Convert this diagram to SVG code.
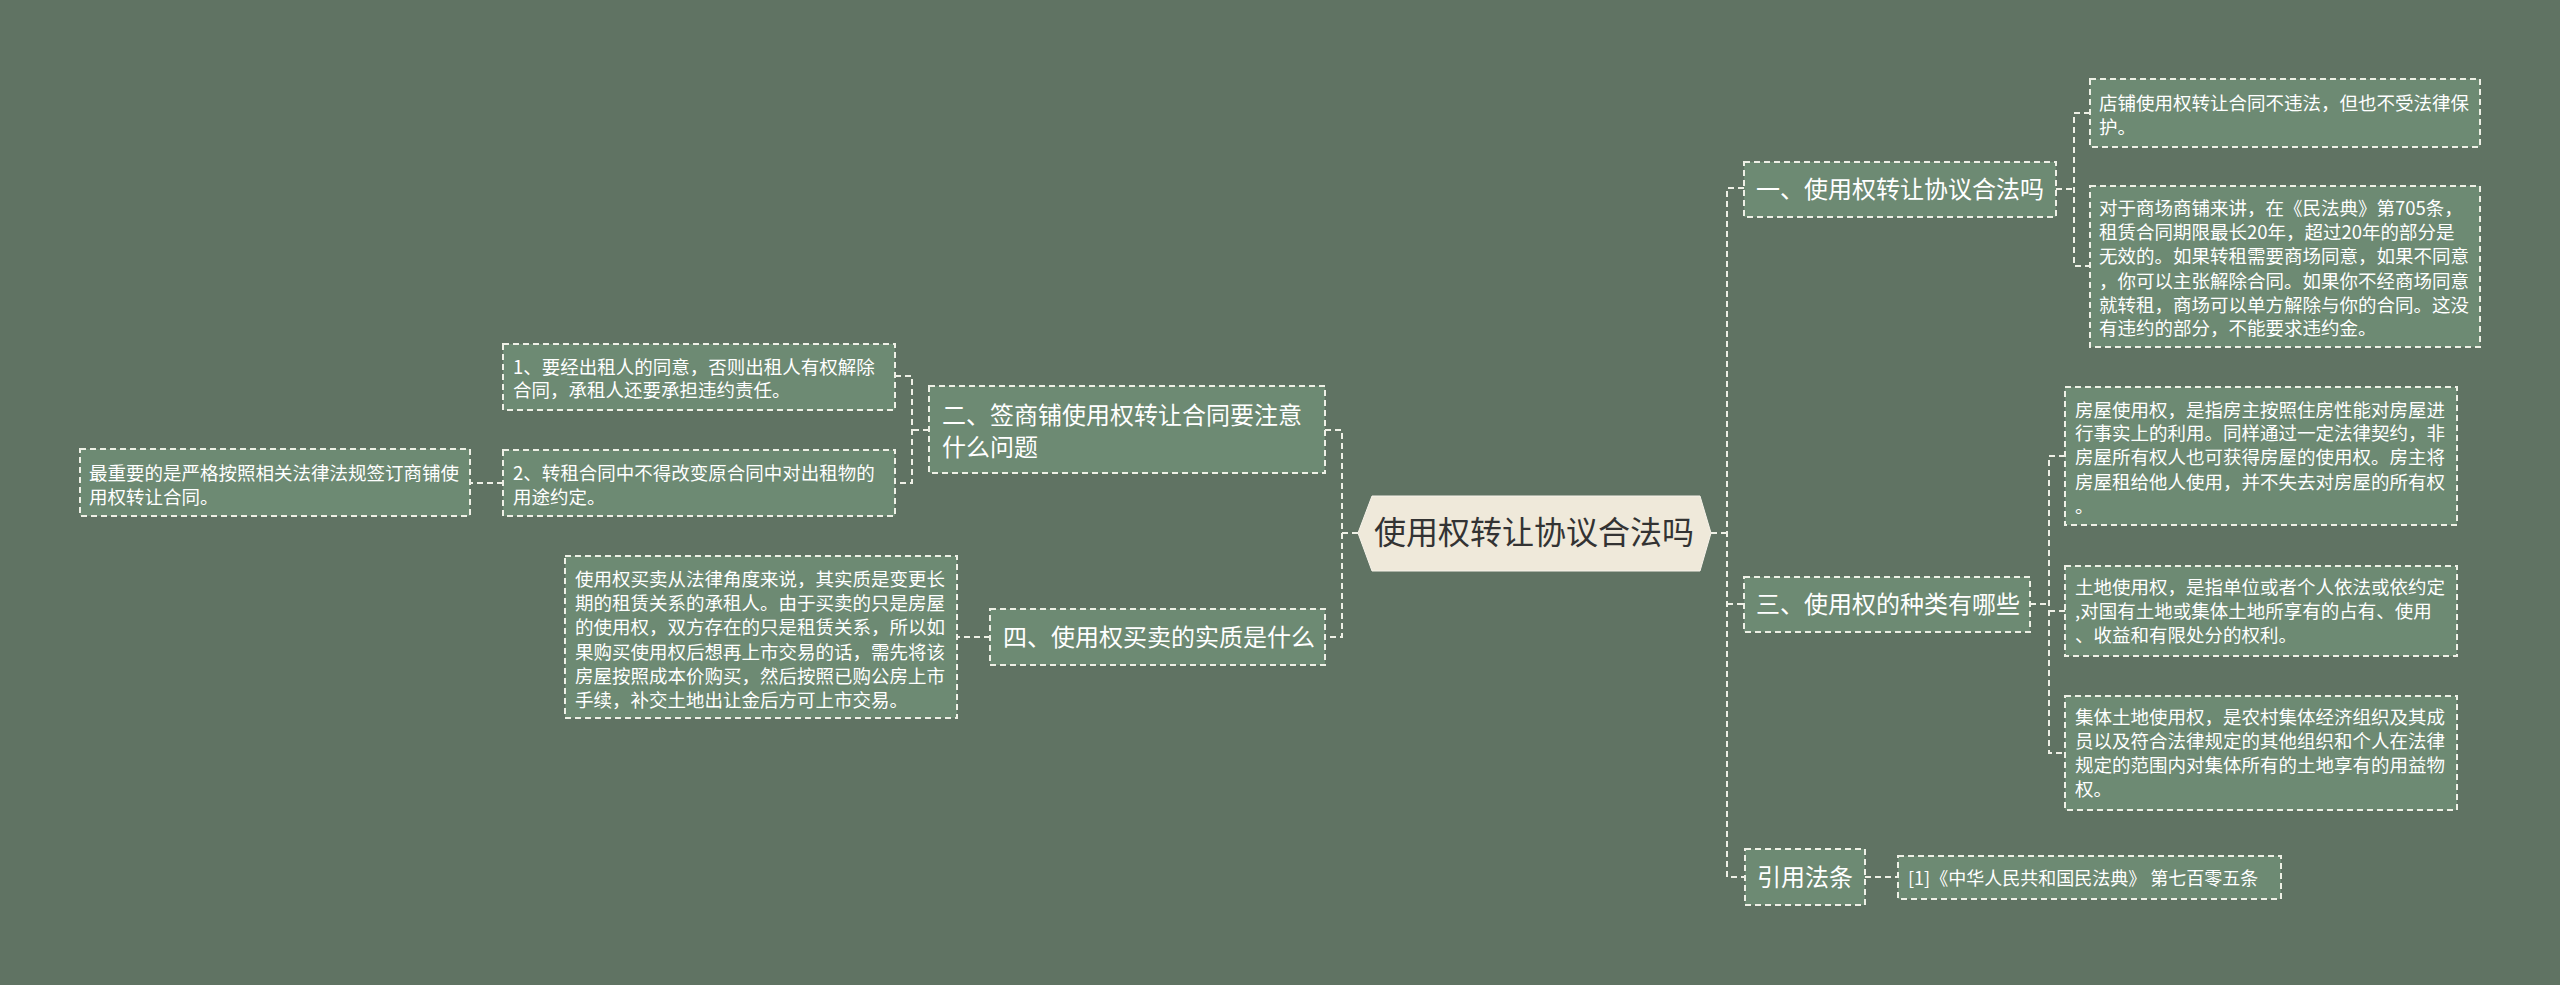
<svg xmlns="http://www.w3.org/2000/svg" width="2560" height="985" viewBox="0 0 2560 985">
<style>
.box{fill:#6d8a73;stroke:#eef0e6;stroke-width:2;stroke-dasharray:6 4}
.ln{fill:none;stroke:#eef0e6;stroke-width:2;stroke-dasharray:6 4}
.t{font-family:"Noto Sans CJK SC","Noto Sans",sans-serif;fill:#ffffff}
.m{font-size:24px}
.s{font-size:18.5px}
.root{font-family:"Noto Sans CJK SC","Noto Sans",sans-serif;font-size:32px;fill:#333333}
</style>
<rect x="0" y="0" width="2560" height="985" fill="#607363"/>
<g id="connectors">
<path class="ln" d="M1711 533 H1727"/>
<path class="ln" d="M1744 188 H1727 V877 H1744"/>
<path class="ln" d="M1727 604 H1744"/>
<path class="ln" d="M2056 189 H2074"/>
<path class="ln" d="M2090 113 H2074 V266 H2090"/>
<path class="ln" d="M2030 604 H2049"/>
<path class="ln" d="M2065 456 H2049 V753 H2065"/>
<path class="ln" d="M2049 611 H2065"/>
<path class="ln" d="M1865 877 H1898"/>
<path class="ln" d="M1358 533 H1342"/>
<path class="ln" d="M1325 430 H1342 V637 H1325"/>
<path class="ln" d="M929 430 H912"/>
<path class="ln" d="M895 376 H912 V483 H895"/>
<path class="ln" d="M503 483 H470"/>
<path class="ln" d="M990 637 H957"/>
</g>
<g id="root">
<polygon points="1358,533 1372,496 1700,496 1711,533 1700,571 1372,571" fill="#efe9da" stroke="#f7f3ea" stroke-width="1"/>
<text class="root" x="1534" y="544" text-anchor="middle">使用权转让协议合法吗</text>
</g>
<g id="n1">
<rect class="box" x="1744" y="162" width="312" height="55"/>
<text class="t m" x="1756" y="198">一、使用权转让协议合法吗</text>
</g>
<g id="n1a">
<rect class="box" x="2090" y="79" width="390" height="68"/>
<text class="t s"><tspan x="2099" y="109.5">店铺使用权转让合同不违法，但也不受法律保</tspan><tspan x="2099" y="133.5">护。</tspan></text>
</g>
<g id="n1b">
<rect class="box" x="2090" y="186" width="390" height="161"/>
<text class="t s"><tspan x="2099" y="214.5">对于商场商铺来讲，在《民法典》第705条，</tspan><tspan x="2099" y="239">租赁合同期限最长20年，超过20年的部分是</tspan><tspan x="2099" y="263">无效的。如果转租需要商场同意，如果不同意</tspan><tspan x="2099" y="287.5">，你可以主张解除合同。如果你不经商场同意</tspan><tspan x="2099" y="311.5">就转租，商场可以单方解除与你的合同。这没</tspan><tspan x="2099" y="335">有违约的部分，不能要求违约金。</tspan></text>
</g>
<g id="n3">
<rect class="box" x="1744" y="577" width="286" height="55"/>
<text class="t m" x="1756" y="613">三、使用权的种类有哪些</text>
</g>
<g id="n3a">
<rect class="box" x="2065" y="387" width="392" height="138"/>
<text class="t s"><tspan x="2075" y="416.5">房屋使用权，是指房主按照住房性能对房屋进</tspan><tspan x="2075" y="440">行事实上的利用。同样通过一定法律契约，非</tspan><tspan x="2075" y="464">房屋所有权人也可获得房屋的使用权。房主将</tspan><tspan x="2075" y="488.5">房屋租给他人使用，并不失去对房屋的所有权</tspan><tspan x="2075" y="513">。</tspan></text>
</g>
<g id="n3b">
<rect class="box" x="2065" y="566" width="392" height="90"/>
<text class="t s"><tspan x="2075" y="593.5">土地使用权，是指单位或者个人依法或依约定</tspan><tspan x="2075" y="617.5">,对国有土地或集体土地所享有的占有、使用</tspan><tspan x="2075" y="641.5">、收益和有限处分的权利。</tspan></text>
</g>
<g id="n3c">
<rect class="box" x="2065" y="696" width="392" height="114"/>
<text class="t s"><tspan x="2075" y="723.5">集体土地使用权，是农村集体经济组织及其成</tspan><tspan x="2075" y="747.5">员以及符合法律规定的其他组织和个人在法律</tspan><tspan x="2075" y="772">规定的范围内对集体所有的土地享有的用益物</tspan><tspan x="2075" y="796">权。</tspan></text>
</g>
<g id="nref">
<rect class="box" x="1745" y="849" width="120" height="56"/>
<text class="t m" x="1757" y="885.5">引用法条</text>
</g>
<g id="nref1">
<rect class="box" x="1898" y="856" width="383" height="43"/>
<text class="t" font-size="18px" x="1908" y="884.5">[1]《中华人民共和国民法典》 第七百零五条</text>
</g>
<g id="n2">
<rect class="box" x="929" y="386" width="396" height="87"/>
<text class="t m"><tspan x="942" y="423.5">二、签商铺使用权转让合同要注意</tspan><tspan x="942" y="455.5">什么问题</tspan></text>
</g>
<g id="n2a">
<rect class="box" x="503" y="344" width="392" height="66"/>
<text class="t s"><tspan x="513" y="373.5">1、要经出租人的同意，否则出租人有权解除</tspan><tspan x="513" y="397">合同，承租人还要承担违约责任。</tspan></text>
</g>
<g id="n2b">
<rect class="box" x="503" y="450" width="392" height="66"/>
<text class="t s"><tspan x="513" y="479.5">2、转租合同中不得改变原合同中对出租物的</tspan><tspan x="513" y="503.5">用途约定。</tspan></text>
</g>
<g id="n2b1">
<rect class="box" x="80" y="449" width="390" height="67"/>
<text class="t s"><tspan x="89" y="479.5">最重要的是严格按照相关法律法规签订商铺使</tspan><tspan x="89" y="503.5">用权转让合同。</tspan></text>
</g>
<g id="n4">
<rect class="box" x="990" y="609" width="335" height="56"/>
<text class="t m" x="1003" y="645.5">四、使用权买卖的实质是什么</text>
</g>
<g id="n4a">
<rect class="box" x="565" y="556" width="392" height="162"/>
<text class="t s"><tspan x="575" y="585.5">使用权买卖从法律角度来说，其实质是变更长</tspan><tspan x="575" y="609.5">期的租赁关系的承租人。由于买卖的只是房屋</tspan><tspan x="575" y="633.5">的使用权，双方存在的只是租赁关系，所以如</tspan><tspan x="575" y="658.5">果购买使用权后想再上市交易的话，需先将该</tspan><tspan x="575" y="682.5">房屋按照成本价购买，然后按照已购公房上市</tspan><tspan x="575" y="706.5">手续，补交土地出让金后方可上市交易。</tspan></text>
</g>
</svg>
